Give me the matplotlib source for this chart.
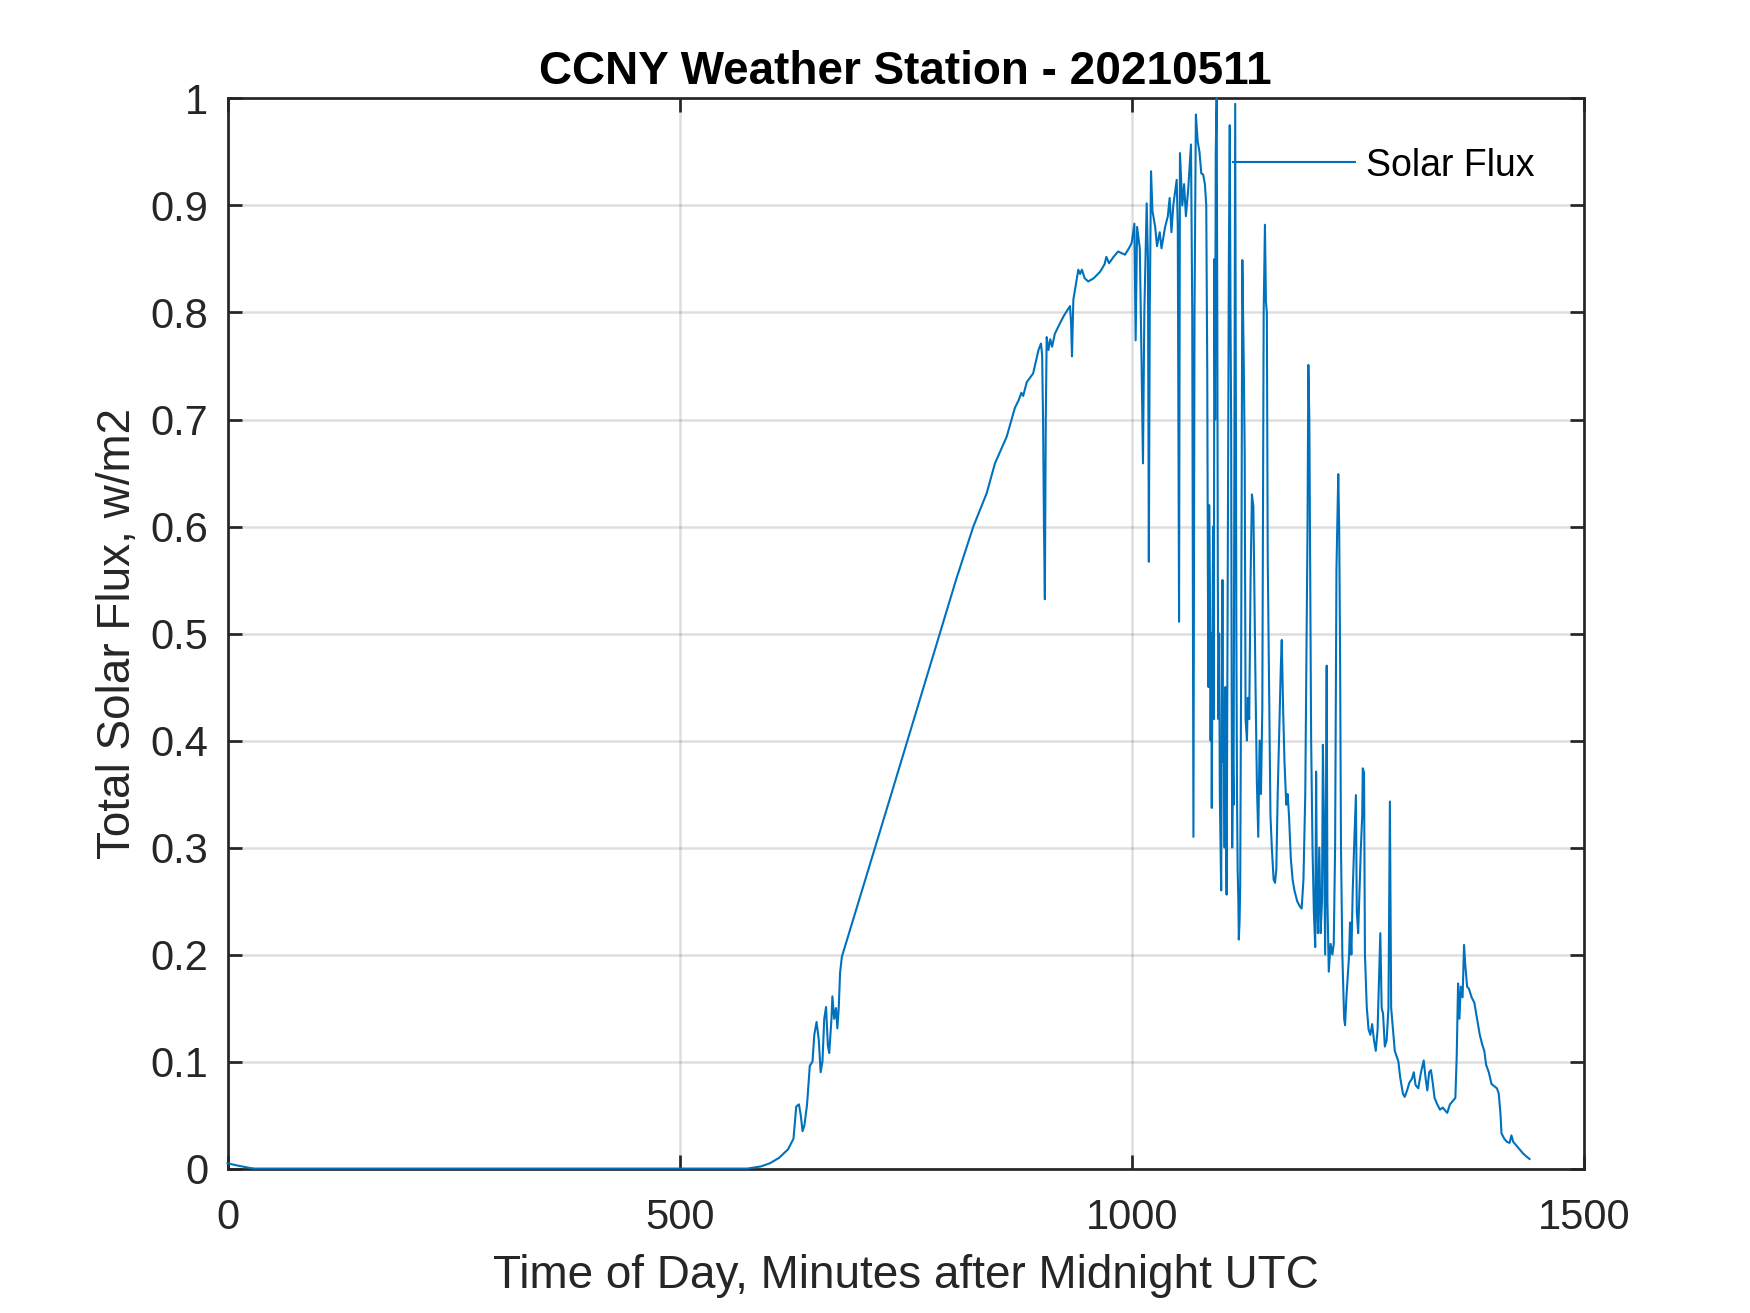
import numpy as np
import matplotlib
matplotlib.use("Agg")
import matplotlib.pyplot as plt

# solar flux, as (minute, normalised flux) vertices
# night: tiny residue at midnight, then flat zero
night_min = [0, 10, 25, 30, 575]
night_val = [0.005, 0.003, 0.0005, 0.0, 0.0]

# sunrise and the clean morning ramp
ramp_min = [590, 600, 610, 620, 626, 629, 632, 634, 636, 638, 641, 644, 647, 649,
            651.5, 654, 656, 658, 660, 662, 664, 665.5, 668, 669, 671, 673, 674.5,
            676, 677.5, 679.5, 732, 805.7, 824.9, 839.6, 848.8, 861.8, 870.9,
            875, 878, 880, 884, 891, 897, 899.7, 901, 902, 903, 904, 905, 906,
            908, 910, 912, 915, 919, 925, 931.8, 933, 934, 935.5, 938, 941, 943,
            945, 948, 952, 958, 965, 970, 972, 975, 980, 985, 990, 992.6, 997, 1000]
ramp_val = [0.002, 0.005, 0.01, 0.018, 0.028, 0.058, 0.06, 0.05, 0.035, 0.04, 0.06, 0.096, 0.1, 0.125,
            0.137, 0.12, 0.09, 0.1, 0.14, 0.151, 0.115, 0.108, 0.14, 0.161, 0.14, 0.15, 0.131,
            0.15, 0.183, 0.198, 0.344, 0.550, 0.600, 0.631, 0.659, 0.684, 0.711,
            0.718, 0.725, 0.722, 0.735, 0.743, 0.765, 0.771, 0.76, 0.70, 0.60, 0.532, 0.70, 0.777,
            0.765, 0.775, 0.768, 0.780, 0.787, 0.797, 0.806, 0.79, 0.759, 0.812, 0.825, 0.840, 0.836,
            0.840, 0.832, 0.829, 0.832, 0.838, 0.845, 0.852, 0.846, 0.852, 0.857, 0.855, 0.854, 0.860, 0.865]

# broken clouds around noon
noon_min = [1003, 1004.4, 1006, 1009, 1011, 1012.5, 1014, 1016.6, 1018, 1019, 1020, 1021.4,
            1023, 1026, 1028, 1031, 1033, 1037, 1040, 1042, 1044, 1046, 1049.8, 1051,
            1052.4, 1053.4, 1056, 1058, 1060, 1062.6, 1065.6, 1067, 1068.3, 1069.5, 1071,
            1073, 1075, 1077, 1079, 1081, 1082.5, 1083.6,
            1084.3, 1085, 1085.7, 1086.5, 1087.3, 1088, 1088.6, 1089.3, 1090, 1090.8,
            1091.5, 1092.3, 1093, 1094, 1094.7, 1095.3, 1096, 1096.8, 1097.5, 1098.3,
            1099, 1099.7, 1100.4, 1101.2, 1102, 1102.8, 1103.5, 1104.3, 1105, 1105.8,
            1106.5, 1107.5, 1108.5, 1109.3, 1110, 1110.6, 1111.2, 1112, 1112.7, 1113.3,
            1114.5, 1115.2, 1115.8, 1116.5, 1117.2, 1118, 1118.5, 1119.3, 1120,
            1121, 1122.4, 1124, 1125, 1126, 1127.5, 1128.5, 1130, 1131.5, 1133, 1134.6,
            1136, 1137, 1138.5, 1140, 1141.5, 1143, 1144.5, 1146, 1147.4, 1148.5, 1149.5,
            1150.5, 1152, 1153.5, 1155, 1157, 1158.6, 1160, 1161.5, 1163, 1165, 1166,
            1167.5, 1169, 1171, 1172.5, 1174, 1176, 1178, 1180, 1183, 1186, 1188, 1190]
noon_val = [0.883, 0.774, 0.880, 0.860, 0.750, 0.659, 0.800, 0.902, 0.850, 0.567, 0.800, 0.932,
            0.895, 0.880, 0.862, 0.875, 0.860, 0.880, 0.890, 0.907, 0.875, 0.900, 0.924, 0.880,
            0.511, 0.949, 0.900, 0.920, 0.890, 0.916, 0.957, 0.800, 0.310, 0.800, 0.985,
            0.960, 0.950, 0.930, 0.929, 0.920, 0.900, 0.745,
            0.550, 0.450, 0.620, 0.550, 0.400, 0.500, 0.337, 0.480, 0.600, 0.420,
            0.850, 0.700, 0.950, 1.000, 0.800, 0.550, 0.420, 0.500, 0.350, 0.300,
            0.260, 0.420, 0.550, 0.380, 0.400, 0.300, 0.450, 0.330, 0.256, 0.450,
            0.600, 0.850, 0.975, 0.800, 0.700, 0.450, 0.300, 0.380, 0.340, 0.550,
            0.995, 0.750, 0.500, 0.350, 0.280, 0.250, 0.214, 0.230, 0.260,
            0.450, 0.849, 0.750, 0.669, 0.420, 0.400, 0.440, 0.420, 0.550, 0.630, 0.619,
            0.520, 0.450, 0.360, 0.310, 0.400, 0.350, 0.430, 0.800, 0.882, 0.810, 0.800,
            0.569, 0.450, 0.330, 0.300, 0.270, 0.267, 0.280, 0.350, 0.400, 0.470, 0.494,
            0.430, 0.380, 0.340, 0.350, 0.330, 0.290, 0.270, 0.260, 0.250, 0.245, 0.243, 0.270]

# afternoon showers of spikes
aftn_min = [1192, 1193.5, 1194.5, 1195.4, 1196.5, 1197.5, 1198.5, 1200, 1201.5, 1203, 1204,
            1205, 1206, 1207.5, 1209, 1210.5, 1211.5, 1212.5, 1214, 1215.7, 1216.5, 1218,
            1220, 1222, 1223.5, 1225, 1226.5, 1228.5, 1229.5, 1230.5, 1231.5, 1233, 1235,
            1236, 1237.5, 1239, 1240.5, 1241.5, 1243, 1244.5, 1246, 1248, 1249, 1250.5,
            1252, 1253.5, 1255, 1255.6, 1257, 1258, 1260, 1262, 1264, 1266, 1268, 1270,
            1272, 1275, 1276.5, 1278, 1280, 1282, 1284, 1285.6, 1287, 1289, 1291, 1293]
aftn_val = [0.350, 0.500, 0.600, 0.751, 0.700, 0.550, 0.400, 0.300, 0.240, 0.207, 0.371,
            0.250, 0.220, 0.300, 0.220, 0.250, 0.396, 0.330, 0.200, 0.470, 0.250, 0.184,
            0.210, 0.200, 0.210, 0.300, 0.560, 0.649, 0.600, 0.480, 0.300, 0.200, 0.140,
            0.134, 0.160, 0.180, 0.200, 0.230, 0.200, 0.260, 0.300, 0.349, 0.240, 0.220,
            0.260, 0.300, 0.330, 0.374, 0.370, 0.200, 0.151, 0.130, 0.125, 0.135, 0.120, 0.110,
            0.130, 0.220, 0.150, 0.145, 0.114, 0.120, 0.150, 0.343, 0.150, 0.130, 0.110, 0.105]

# evening tail
tail_min = [1295, 1297, 1300, 1302, 1305, 1307, 1310, 1312, 1314, 1317, 1320, 1323, 1325,
            1327, 1329, 1331, 1333, 1335, 1338, 1341, 1344, 1346, 1349, 1352, 1355, 1358,
            1359.5, 1361, 1362.5, 1364, 1366, 1367.6, 1369, 1371, 1373, 1376, 1379, 1382,
            1385, 1388, 1390, 1392, 1395, 1398, 1401, 1404, 1406, 1408, 1409, 1412, 1415,
            1418, 1420, 1422, 1425, 1429, 1433, 1437, 1440]
tail_val = [0.100, 0.085, 0.070, 0.067, 0.074, 0.080, 0.084, 0.090, 0.078, 0.075, 0.090, 0.101, 0.085,
            0.073, 0.090, 0.092, 0.080, 0.066, 0.060, 0.055, 0.057, 0.055, 0.052, 0.060, 0.063, 0.066,
            0.105, 0.173, 0.140, 0.170, 0.160, 0.209, 0.190, 0.170, 0.168, 0.160, 0.155, 0.140,
            0.125, 0.115, 0.110, 0.097, 0.090, 0.079, 0.077, 0.075, 0.070, 0.050, 0.033, 0.028, 0.025,
            0.024, 0.031, 0.025, 0.022, 0.018, 0.014, 0.011, 0.009]

minutes = np.concatenate([night_min, ramp_min, noon_min, aftn_min, tail_min])
flux = np.concatenate([night_val, ramp_val, noon_val, aftn_val, tail_val])

x_ticks = [0, 500, 1000, 1500]
y_ticks = [0, 0.1, 0.2, 0.3, 0.4, 0.5, 0.6, 0.7, 0.8, 0.9, 1]

ml_blue = "#0072BD"
ml_gray = (0.15, 0.15, 0.15)

plt.rcParams["font.family"] = ["Liberation Sans", "DejaVu Sans"]

fig = plt.figure(figsize=(17.5, 13.13), dpi=100)
ax = fig.add_axes([0.13, 0.11, 0.775, 0.815])

ax.plot(minutes, flux, color=ml_blue, lw=1.5, label="Solar Flux", zorder=3, clip_on=False)

ax.set_xlim(0, 1500)
ax.set_ylim(0, 1)
ax.set_xticks(x_ticks)
ax.set_yticks(y_ticks)
ax.set_xticklabels([f"{t:g}" for t in x_ticks])
ax.set_yticklabels([f"{t:g}" for t in y_ticks])

ax.grid(True, color=ml_gray, alpha=0.15, lw=1.8)
ax.set_axisbelow(True)
for sp in ax.spines.values():
    sp.set_color(ml_gray)
    sp.set_linewidth(1.95)
ax.tick_params(which="both", direction="in", top=True, right=True,
               length=9.8, width=1.95, color=ml_gray, labelcolor=ml_gray, labelsize=30)
ax.tick_params(axis="x", pad=21.5)
ax.tick_params(axis="y", pad=13.7)

ax.set_title("CCNY Weather Station - 20210511", fontsize=33, fontweight="bold", pad=10.4)
ax.set_xlabel("Time of Day, Minutes after Midnight UTC", fontsize=33, color=ml_gray)
ax.xaxis.set_label_coords(0.5, -0.1119)
ax.xaxis.label.set_verticalalignment("baseline")
ax.set_ylabel("Total Solar Flux, w/m2", fontsize=33, color=ml_gray)
ax.yaxis.set_label_coords(-0.081, 0.5)
ax.yaxis.label.set_verticalalignment("center")

ax.legend(loc="center right", bbox_to_anchor=(1535 / 1750, 1 - 165.5 / 1313),
          bbox_transform=fig.transFigure, frameon=False, fontsize=27,
          handlelength=3.25, handletextpad=0.3, borderpad=0, borderaxespad=0)

fig.savefig("out.png", dpi=100)
